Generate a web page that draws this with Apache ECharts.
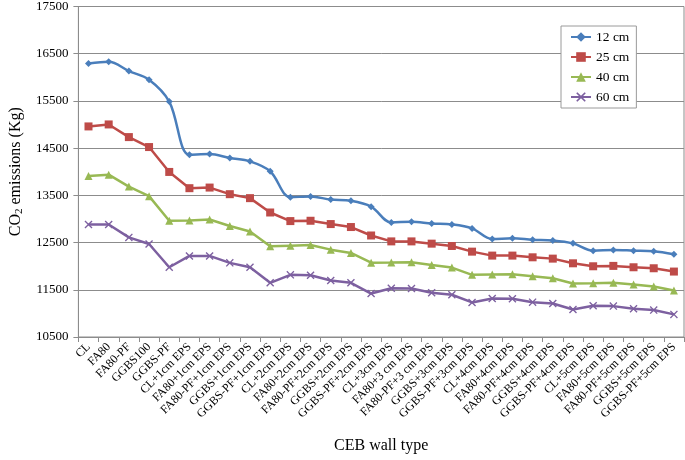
<!DOCTYPE html>
<html>
<head>
<meta charset="utf-8">
<script src="https://cdn.jsdelivr.net/npm/echarts@6/dist/echarts.min.js"></script>
<style>html,body{margin:0;padding:0;background:#fff}#c{width:685px;height:460px}</style>
</head>
<body>
<div id="c"></div>
<script>
const categories = ['CL','FA80','FA80-PF','GGBS100','GGBS-PF','CL+1cm EPS','FA80+1cm EPS','FA80-PF+1cm EPS','GGBS+1cm EPS','GGBS-PF+1cm EPS','CL+2cm EPS','FA80+2cm EPS','FA80-PF+2cm EPS','GGBS+2cm EPS','GGBS-PF+2cm EPS','CL+3cm EPS','FA80+3 cm EPS','FA80-PF+3 cm EPS','GGBS+3cm EPS','GGBS-PF+3cm EPS','CL+4cm EPS','FA80+4cm EPS','FA80-PF+4cm EPS','GGBS+4cm EPS','GGBS-PF+4cm EPS','CL+5cm EPS','FA80+5cm EPS','FA80-PF+5cm EPS','GGBS+5cm EPS','GGBS-PF+5cm EPS'];
const s12 = [16295,16330,16133,15951,15487,14361,14376,14291,14221,14010,13462,13475,13411,13384,13260,12926,12941,12905,12884,12800,12576,12589,12561,12546,12483,12329,12343,12329,12314,12251];
const s25 = [14960,15002,14734,14523,13996,13652,13665,13525,13441,13137,12955,12962,12892,12829,12650,12525,12525,12477,12428,12308,12224,12224,12188,12160,12061,11998,12006,11977,11956,11886];
const s40 = [13911,13939,13686,13483,12962,12968,12989,12850,12736,12420,12435,12449,12350,12281,12075,12076,12082,12027,11970,11816,11823,11829,11787,11745,11633,11639,11648,11612,11570,11485];
const s60 = [12884,12884,12610,12470,11977,12217,12217,12070,11977,11648,11816,11808,11696,11648,11420,11534,11527,11437,11395,11232,11316,11310,11238,11211,11084,11162,11154,11099,11070,10979];
const seriesNames = ['12 cm','25 cm','40 cm','60 cm'];
const yTicks = {min: 10500, max: 17500, step: 1000};

const font = 'Liberation Serif';
const gridColor = '#8c8c8c';
const xPath = 'path://M0,1.2L1.2,0L5,3.8L8.8,0L10,1.2L6.2,5L10,8.8L8.8,10L5,6.2L1.2,10L0,8.8L3.8,5Z';

const chart = echarts.init(document.getElementById('c'), null, {renderer: 'canvas'});
chart.setOption({
  animation: false,
  backgroundColor: '#fff',
  textStyle: {fontFamily: font},
  grid: {left: 76, right: 1, top: 4, bottom: 123, show: true, borderColor: gridColor, borderWidth: 1, containLabel: false},
  legend: {
    orient: 'vertical', left: 561, top: 26,
    backgroundColor: '#fff', borderColor: '#9a9a9a', borderWidth: 1,
    padding: [4, 7, 4, 9], itemGap: 6, itemWidth: 20, itemHeight: 12,
    textStyle: {fontFamily: font, fontSize: 13.5, color: '#000'},
    data: seriesNames
  },
  xAxis: {
    type: 'category', data: categories, boundaryGap: true,
    name: 'CEB wall type', nameLocation: 'middle', nameGap: 101,
    nameTextStyle: {fontFamily: font, fontSize: 16, color: '#000'},
    axisLine: {lineStyle: {color: gridColor, width: 1}},
    axisTick: {show: true, length: 5, alignWithLabel: false, lineStyle: {color: gridColor}},
    axisLabel: {rotate: 45, interval: 0, margin: 8, fontFamily: font, fontSize: 12, color: '#000'},
    splitLine: {show: false}
  },
  yAxis: {
    type: 'value', min: yTicks.min, max: yTicks.max, interval: yTicks.step,
    name: '{a|CO}{b|2}{a| emissions (Kg)}', nameLocation: 'middle', nameGap: 52, nameRotate: 90,
    nameTextStyle: {fontFamily: font, color: '#000', rich: {
      a: {fontFamily: font, fontSize: 16, color: '#000', lineHeight: 18},
      b: {fontFamily: font, fontSize: 11, color: '#000', lineHeight: 18, verticalAlign: 'bottom', padding: [6, 0, 0, 0]}
    }},
    axisLine: {show: true, lineStyle: {color: gridColor, width: 1}},
    axisTick: {show: true, length: 5, lineStyle: {color: gridColor}},
    axisLabel: {fontFamily: font, fontSize: 13, color: '#000', margin: 10, formatter: v => String(v)},
    splitLine: {show: true, lineStyle: {color: gridColor, width: 1}}
  },
  series: [
    {name: seriesNames[0], type: 'line', data: s12, smooth: 0.35, symbol: 'diamond', symbolSize: 7,
     lineStyle: {color: '#4a7ebb', width: 2.5}, itemStyle: {color: '#4a7ebb'}},
    {name: seriesNames[1], type: 'line', data: s25, symbol: 'rect', symbolSize: 8,
     lineStyle: {color: '#be4b48', width: 2.5}, itemStyle: {color: '#be4b48'}},
    {name: seriesNames[2], type: 'line', data: s40, symbol: 'triangle', symbolSize: 8,
     lineStyle: {color: '#98b954', width: 2.5}, itemStyle: {color: '#98b954'}},
    {name: seriesNames[3], type: 'line', data: s60, symbol: xPath, symbolSize: 8,
     lineStyle: {color: '#7d60a0', width: 2.5}, itemStyle: {color: '#7d60a0'}}
  ]
});
</script>
</body>
</html>
